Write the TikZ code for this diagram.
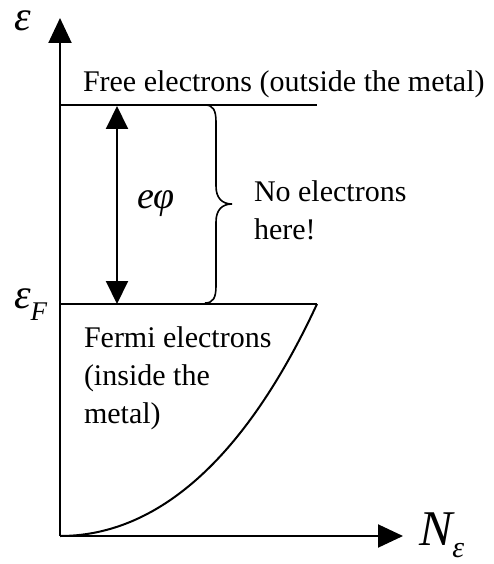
\documentclass[tikz,border=0pt]{standalone}
\usepackage{fontspec}
\setmainfont{Liberation Serif}
\usetikzlibrary{arrows.meta}
\begin{document}
\begin{tikzpicture}[x=1pt,y=-1pt,line width=2pt,
  tip/.style={-{Triangle[length=25pt,width=23pt]}},
  dtip/.style={{Triangle[length=23pt,width=22pt]}-{Triangle[length=23pt,width=22pt]}},
  txt/.style={inner sep=0pt,font=\fontsize{30}{38}\selectfont},
  sym/.style={inner sep=0pt,font=\fontsize{42}{42}\selectfont\itshape}]
\useasboundingbox (0,0) rectangle (493,564);
% coordinates
\coordinate (O) at (60,536);
\coordinate (ytop) at (60,18);
\coordinate (xend) at (403,536);
\coordinate (fl) at (60,105);
\coordinate (fr) at (317,105);
\coordinate (el) at (60,304);
\coordinate (er) at (317,304);
\coordinate (au) at (117,106);
\coordinate (ad) at (117,304);
% axes
\draw[tip] (O) -- (ytop);
\draw[tip] (O) -- (xend);
% levels
\draw (fl) -- (fr);
\draw (el) -- (er);
% density of states curve
\draw (O) .. controls (150,536) and (240,470) .. (er);
% work function arrow
\draw[dtip] (au) -- (ad);
% brace
\draw[line width=1.6pt] (205,105) .. controls (213,105) and (216,110) .. (216,122)
  -- (216,186) .. controls (216,198) and (222,204) .. (232,204)
  .. controls (222,204) and (216,210) .. (216,222)
  -- (216,286) .. controls (216,298) and (213,303) .. (205,303);
% labels
\node[sym,anchor=base west] (eps) at (13,31) {ε};
\node[sym,anchor=base west] (epsF) at (13,308) {ε\raisebox{-0.3em}{\fontsize{27}{27}\selectfont F}};
\node[sym,anchor=base west,font=\fontsize{50}{50}\selectfont\itshape] (N) at (418,545) {N\raisebox{-0.25em}{\fontsize{30}{30}\selectfont ε}};
\node[txt,anchor=base west] (free) at (82,92) {Free electrons (outside the metal)};
\node[txt,anchor=base west,font=\fontsize{38}{38}\selectfont\itshape] (ephi) at (136,208) {eφ};
\node[txt,anchor=north west,align=left] (none) at (253,180) {No electrons\\here!};
\node[txt,anchor=north west,align=left] (fermi) at (83,326) {Fermi electrons\\(inside the\\metal)};
\end{tikzpicture}
\end{document}
